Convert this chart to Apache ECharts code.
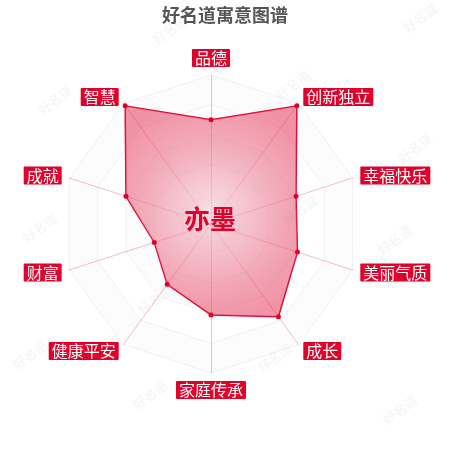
<!DOCTYPE html>
<html>
<head>
<meta charset="utf-8">
<script src="https://cdn.jsdelivr.net/npm/echarts@6/dist/echarts.min.js"></script>
<style>
  html, body { margin: 0; padding: 0; background: #fff; }
  #chart { width: 450px; height: 450px; }
</style>
</head>
<body>
<div id="chart"></div>
<script>
  // 维度（逆时针，从正上方开始）
  var indicators = ["品德", "智慧", "成就", "财富", "健康平安", "家庭传承", "成长", "美丽气质", "幸福快乐", "创新独立"];
  var scores = [70, 98, 60, 40, 50, 61, 77, 61, 60, 98];
  var maxScore = 100;
  var nameText = "亦墨";
  var titleText = "好名道寓意图谱";

  var chartDom = document.getElementById("chart");
  var myChart = echarts.init(chartDom);

  // 水印
  var marks = [
    [170, 30], [420, 18], [55, 100], [293, 85], [415, 148],
    [40, 228], [300, 210], [395, 240], [155, 300], [30, 355],
    [275, 358], [150, 395], [400, 410]
  ];
  var graphics = marks.map(function (p) {
    return {
      type: "text",
      x: p[0], y: p[1],
      rotation: Math.PI / 5,
      style: {
        text: "好名道",
        fill: "rgba(0,0,0,0.035)",
        font: "bold 13px 'Noto Sans CJK SC'",
        align: "center",
        verticalAlign: "middle"
      },
      z: 100
    };
  });

  var option = {
    title: {
      text: titleText,
      left: "center",
      top: 1,
      textStyle: {
        fontSize: 18,
        fontWeight: "bold",
        color: "#555",
        fontFamily: "Noto Sans CJK SC"
      }
    },
    graphic: graphics.concat([{
      type: "text",
      x: 210, y: 219,
      style: {
        text: nameText,
        fill: "#e0002a",
        font: "bold 26px 'Noto Sans CJK SC'",
        align: "center",
        verticalAlign: "middle"
      },
      z: 50
    }]),
    radar: {
      center: [211, 224],
      radius: 149,
      startAngle: 90,
      splitNumber: 5,
      indicator: indicators.map(function (n) {
        return { name: n, max: maxScore };
      }),
      axisName: {
        color: "#fff",
        backgroundColor: "#e0002a",
        fontSize: 16,
        fontFamily: "Noto Sans CJK SC",
        padding: [1, 3],
        borderRadius: 1
      },
      nameGap: 8,
      axisLine: {
        lineStyle: { color: "rgba(230,90,120,0.4)", width: 1 }
      },
      splitLine: {
        lineStyle: { color: "#e2e2e2", type: "dotted", width: 1 }
      },
      splitArea: {
        show: true,
        areaStyle: { color: ["rgba(0,0,0,0.012)", "rgba(255,255,255,0)"] }
      }
    },
    series: [{
      type: "radar",
      symbol: "circle",
      symbolSize: 5,
      itemStyle: { color: "#e0002a" },
      lineStyle: { color: "#e0002a", width: 1.5 },
      areaStyle: {
        color: new echarts.graphic.RadialGradient(0.5, 0.5, 0.65, [
          { offset: 0, color: "rgba(245,210,220,0.95)" },
          { offset: 1, color: "rgba(228,50,85,0.75)" }
        ])
      },
      data: [{ value: scores, name: nameText }]
    }]
  };
  option && myChart.setOption(option);
</script>
</body>
</html>
